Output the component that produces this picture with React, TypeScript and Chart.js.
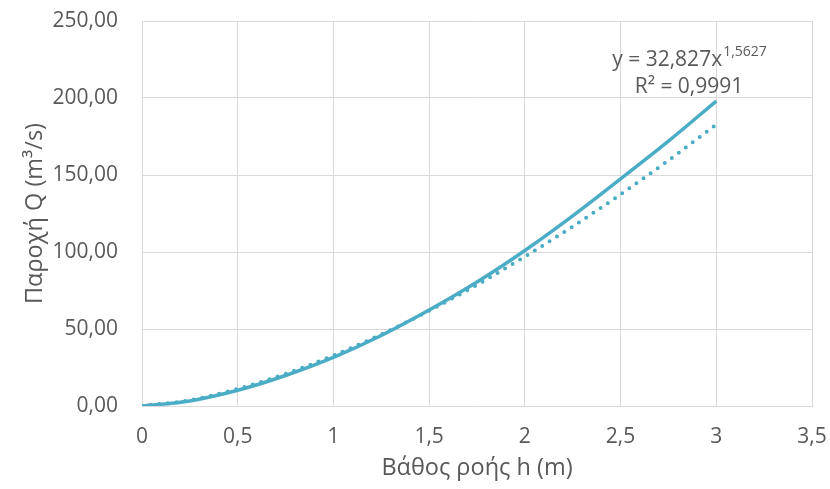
import React, { useEffect, useRef } from "react";
import { Chart, registerables } from "chart.js";

Chart.register(...registerables);

// Measured data (solid line): depth h (m) vs discharge Q (m3/s)
const depthH = [0, 0.25, 0.5, 0.75, 1, 1.25, 1.5, 1.75, 2, 2.25, 2.5, 2.75, 3];
const dischargeQ = [0, 3.3, 10.2, 19.8, 31.6, 45.8, 62.3, 80.5, 101, 123.5, 147.5, 172, 198];

// Power trendline (dotted)
const trendH = [0, 0.25, 0.5, 0.75, 1, 1.25, 1.5, 1.75, 2, 2.25, 2.5, 2.75, 3];
const trendQ = [0, 3.8, 11.1, 20.9, 32.8, 46.5, 61.9, 78.7, 97.0, 116.6, 137.4, 159.5, 182.7];

const xMin = 0;
const xMax = 3.5;
const xStep = 0.5;
const yMin = 0;
const yMax = 250;
const yStep = 50;

const xTitle = "Βάθος ροής h (m)";
const yTitle = "Παροχή Q (m³/s)";
const eqMain = "y = 32,827x";
const eqExp = "1,5627";
const r2Text = "R² = 0,9991";

const LINE_COLOR = "#4BACC6";
const TEXT_COLOR = "#595959";
const GRID_COLOR = "#D9D9D9";
const FONT = '"Open Sans", sans-serif';

const fmtComma = (v: number, digits: number) =>
  v.toFixed(digits).replace(".", ",");

const eqPlugin = {
  id: "equationLabel",
  afterDraw(chart: any) {
    const ctx = chart.ctx as CanvasRenderingContext2D;
    ctx.save();
    ctx.fillStyle = TEXT_COLOR;
    ctx.textBaseline = "alphabetic";
    ctx.font = `21px ${FONT}`;
    const w1 = ctx.measureText(eqMain).width;
    ctx.font = `14px ${FONT}`;
    const w2 = ctx.measureText(eqExp).width;
    const cx = 689;
    const x0 = cx - (w1 + w2) / 2;
    ctx.textAlign = "left";
    ctx.font = `21px ${FONT}`;
    ctx.fillText(eqMain, x0, 66);
    ctx.font = `14px ${FONT}`;
    ctx.fillText(eqExp, x0 + w1 + 1, 56);
    ctx.font = `21px ${FONT}`;
    ctx.textAlign = "center";
    ctx.fillText(r2Text, cx, 93);
    ctx.restore();
  },
};

export default function App() {
  const canvasRef = useRef<HTMLCanvasElement | null>(null);

  useEffect(() => {
    document.body.style.margin = "0";
    const canvas = canvasRef.current;
    if (!canvas) return;
    const chart = new Chart(canvas, {
      type: "scatter",
      data: {
        datasets: [
          {
            label: "Trend",
            data: trendH.map((h, i) => ({ x: h, y: trendQ[i] })),
            showLine: true,
            borderColor: LINE_COLOR,
            backgroundColor: LINE_COLOR,
            borderWidth: 4,
            borderDash: [0, 8.7],
            borderCapStyle: "round",
            pointRadius: 0,
            cubicInterpolationMode: "monotone",
          },
          {
            label: "Q",
            data: depthH.map((h, i) => ({ x: h, y: dischargeQ[i] })),
            showLine: true,
            borderColor: LINE_COLOR,
            backgroundColor: LINE_COLOR,
            borderWidth: 3.5,
            pointRadius: 0,
            cubicInterpolationMode: "monotone",
          },
        ],
      },
      options: {
        responsive: false,
        animation: false,
        layout: { padding: { left: 0, right: 18, top: 21, bottom: 0 } },
        plugins: {
          legend: { display: false },
          tooltip: { enabled: false },
        },
        scales: {
          x: {
            type: "linear",
            min: xMin,
            max: xMax,
            ticks: {
              stepSize: xStep,
              color: TEXT_COLOR,
              font: { family: FONT, size: 21 },
              padding: 18,
              callback: (v: any) => {
                const n = Number(v);
                return Number.isInteger(n) ? String(n) : fmtComma(n, 1);
              },
            },
            grid: { color: GRID_COLOR, drawTicks: false, lineWidth: 1 },
            border: { color: GRID_COLOR },
            title: {
              display: true,
              text: xTitle,
              color: TEXT_COLOR,
              font: { family: FONT, size: 23.5 },
              padding: { top: 0, bottom: 7 },
            },
            afterFit: (scale: any) => {
              scale.height = 83;
              scale.paddingLeft = 0;
              scale.paddingRight = 0;
            },
          },
          y: {
            type: "linear",
            min: yMin,
            max: yMax,
            ticks: {
              stepSize: yStep,
              color: TEXT_COLOR,
              font: { family: FONT, size: 21 },
              padding: 24,
              callback: (v: any) => fmtComma(Number(v), 2),
            },
            grid: { color: GRID_COLOR, drawTicks: false, lineWidth: 1 },
            border: { color: GRID_COLOR },
            title: {
              display: true,
              text: yTitle,
              color: TEXT_COLOR,
              font: { family: FONT, size: 23.5 },
              padding: { top: 21, bottom: 0 },
            },
            afterFit: (scale: any) => {
              scale.width = 142;
              scale.paddingTop = 0;
              scale.paddingBottom = 0;
            },
          },
        },
      },
      plugins: [eqPlugin],
    });
    return () => chart.destroy();
  }, []);

  return (
    <div style={{ width: 830, height: 489, background: "#fff" }}>
      <canvas ref={canvasRef} width={830} height={489} style={{ display: "block" }} />
    </div>
  );
}
